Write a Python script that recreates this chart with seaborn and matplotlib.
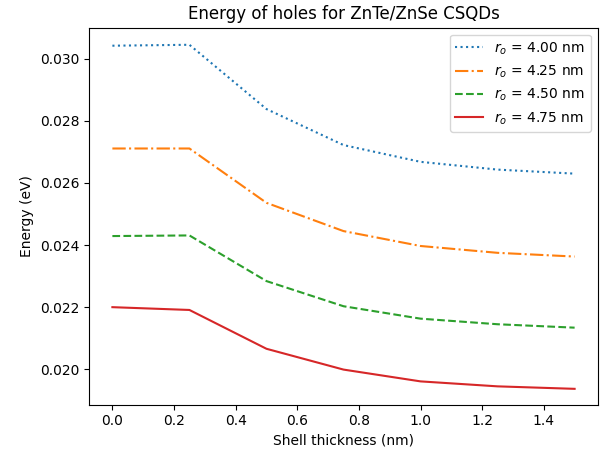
import numpy as np
import pandas as pd
import matplotlib
matplotlib.use("Agg")
import matplotlib.pyplot as plt
import seaborn as sns

shell = [0.0, 0.25, 0.5, 0.75, 1.0, 1.25, 1.5]
e_400 = [0.03042, 0.03045, 0.02838, 0.02722, 0.02668, 0.02643, 0.02630]
e_425 = [0.02711, 0.02711, 0.02536, 0.02445, 0.02397, 0.02375, 0.02363]
e_450 = [0.02429, 0.02431, 0.02284, 0.02203, 0.02163, 0.02145, 0.02134]
e_475 = [0.02200, 0.02191, 0.02066, 0.01999, 0.01961, 0.01945, 0.01937]
labels = [r"$r_o$ = 4.00 nm", r"$r_o$ = 4.25 nm", r"$r_o$ = 4.50 nm", r"$r_o$ = 4.75 nm"]

rows = []
for lab, vals in zip(labels, [e_400, e_425, e_450, e_475]):
    for x, y in zip(shell, vals):
        rows.append({"shell": x, "energy": y, "series": lab})
df = pd.DataFrame(rows)

plt.rcParams["font.family"] = ["DejaVu Sans"]
fig = plt.figure(figsize=(6.02, 4.57), dpi=100)
ax = fig.add_axes([0.1483, 0.1145, 0.8446, 0.8249])
palette = dict(zip(labels, sns.color_palette("tab10", 4)))
dashes = dict(zip(labels, [(1, 1.65), (6.4, 1.6, 1, 1.6), (3.7, 1.6), ""]))
sns.lineplot(data=df, x="shell", y="energy", hue="series", style="series",
             palette=palette, dashes=dashes, ax=ax, linewidth=1.5)
ax.set_title("Energy of holes for ZnTe/ZnSe CSQDs")
ax.set_xlabel("Shell thickness (nm)")
ax.set_ylabel("Energy (eV)")
ax.set_yticks([0.020, 0.022, 0.024, 0.026, 0.028, 0.030])
ax.set_ylim(0.01886, 0.0310)
ax.set_xlim(-0.075, 1.575)
ax.legend(loc="upper right", title=None)
fig.savefig("out.png", dpi=100)
